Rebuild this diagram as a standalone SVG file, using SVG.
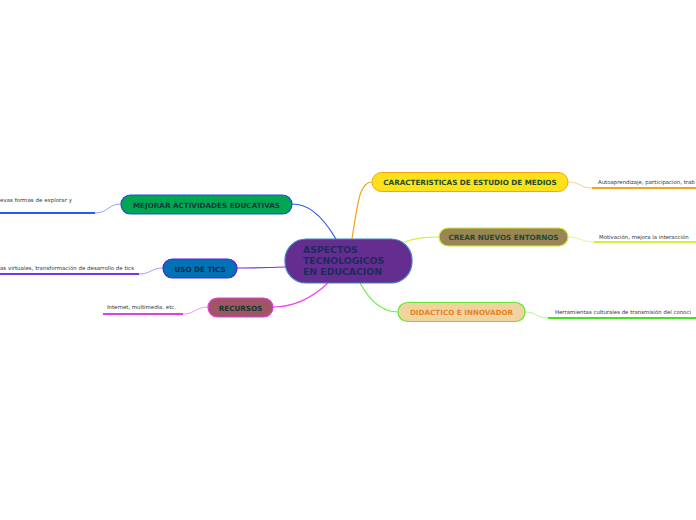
<svg xmlns="http://www.w3.org/2000/svg" width="696" height="520" viewBox="0 0 696 520">
<style>
.lbl{font-family:"DejaVu Sans",Verdana,sans-serif;font-weight:bold;font-size:7.2px;text-anchor:middle;dominant-baseline:central}
.ctr{font-family:"DejaVu Sans",Verdana,sans-serif;font-weight:bold;font-size:9.3px;fill:#1b2b5b}
.sub{font-family:"DejaVu Sans",Verdana,sans-serif;font-size:5.4px;fill:#333}
.c{fill:none;stroke-width:1.2}
.t{fill:none;stroke-width:0.8}
.u{fill:none;stroke-width:2}
</style>
<rect width="696" height="520" fill="#fff"/>
<g id="connectors">
<path class="c" d="M352,239 C358,200 360,182 372,182" stroke="#f7a21b"/>
<path class="c" d="M404,242 C420,237 428,237 439,237" stroke="#d4f03a"/>
<path class="c" d="M360,283 C372,305 385,312 398,312" stroke="#66ee44"/>
<path class="c" d="M336,239 C320,212 306,204 292,204" stroke="#2a5ae8"/>
<path class="c" d="M285,267 C260,268 250,268 237,268" stroke="#7733ee"/>
<path class="c" d="M328,283 C310,300 290,307 273,307" stroke="#ee44ee"/>
<path class="t" d="M568,182 C580,182 580,188 592,188" stroke="#f7c070"/>
<path class="u" d="M592,188 H696" stroke="#f7a21b"/>
<path class="t" d="M568,237 C580,237 582,242 594,242" stroke="#e0f070"/>
<path class="u" d="M594,242 H696" stroke="#d4f03a"/>
<path class="t" d="M525,312 C537,312 536,318 548,318" stroke="#a0f080"/>
<path class="u" d="M548,318 H696" stroke="#44e022"/>
<path class="t" d="M121,204 C108,204 108,213 95,213" stroke="#7090f0"/>
<path class="u" d="M0,213 H95" stroke="#2a5ae8"/>
<path class="t" d="M163,268 C151,268 151,274 139,274" stroke="#a080f0"/>
<path class="u" d="M0,274 H139" stroke="#7733ee"/>
<path class="t" d="M208,307 C196,307 195,314 183,314" stroke="#f080f0"/>
<path class="u" d="M103,314 H183" stroke="#e040e0"/>
</g>
<g id="central">
<rect x="285" y="239" width="127" height="44" rx="21" fill="#662d91" stroke="#3a85c8" stroke-width="1.2"/>
<text class="ctr" x="303" y="253">ASPECTOS</text>
<text class="ctr" x="303" y="264">TECNOLOGICOS</text>
<text class="ctr" x="303" y="275">EN EDUCACION</text>
</g>
<g id="caracteristicas">
<rect x="372" y="172.5" width="196" height="19" rx="9.5" fill="#ffe11a" stroke="#f7a21b" stroke-width="1"/>
<text class="lbl" x="470" y="182.5" fill="#1a4d2e">CARACTERISTICAS DE ESTUDIO DE MEDIOS</text>
</g>
<g id="crear">
<rect x="439" y="228" width="129" height="18" rx="9" fill="#9b8455" stroke="#c8f030" stroke-width="1.2"/>
<text class="lbl" x="503.5" y="237.5" fill="#1a4d2e">CREAR NUEVOS ENTORNOS</text>
</g>
<g id="didactico">
<rect x="398" y="302.5" width="127" height="19" rx="9.5" fill="#f0d4a0" stroke="#66e633" stroke-width="1.2"/>
<text class="lbl" x="461.5" y="312.5" fill="#e8821e">DIDACTICO E INNOVADOR</text>
</g>
<g id="mejorar">
<rect x="121" y="195" width="171" height="19" rx="9.5" fill="#00a651" stroke="#1f4fe0" stroke-width="1.2"/>
<text class="lbl" x="206.5" y="205" fill="#1a3a3a">MEJORAR ACTIVIDADES EDUCATIVAS</text>
</g>
<g id="uso">
<rect x="163" y="259" width="74" height="19" rx="9.5" fill="#0072b5" stroke="#5522dd" stroke-width="1.2"/>
<text class="lbl" x="200" y="269" fill="#0d2a4a">USO DE TICS</text>
</g>
<g id="recursos">
<rect x="208" y="298" width="65" height="19" rx="9.5" fill="#a05565" stroke="#e040d8" stroke-width="1.2"/>
<text class="lbl" x="240.5" y="308" fill="#0d3a2a">RECURSOS</text>
</g>
<g id="sub-caracteristicas"><text class="sub" x="598" y="184">Autoaprendizaje, participacion, trab</text></g>
<g id="sub-crear"><text class="sub" x="599" y="239">Motivación, mejora la interacción</text></g>
<g id="sub-didactico"><text class="sub" x="555" y="314">Herramientas culturales de transmisión  del conoci</text></g>
<g id="sub-mejorar"><text class="sub" x="0" y="202" textLength="72" lengthAdjust="spacingAndGlyphs">evas formas de explorar y</text></g>
<g id="sub-uso"><text class="sub" x="0" y="270" textLength="134" lengthAdjust="spacingAndGlyphs">as virtuales, transformación de desarrollo de tics</text></g>
<g id="sub-recursos"><text class="sub" x="107" y="309">Internet, multimedia. etc.</text></g>
</svg>
